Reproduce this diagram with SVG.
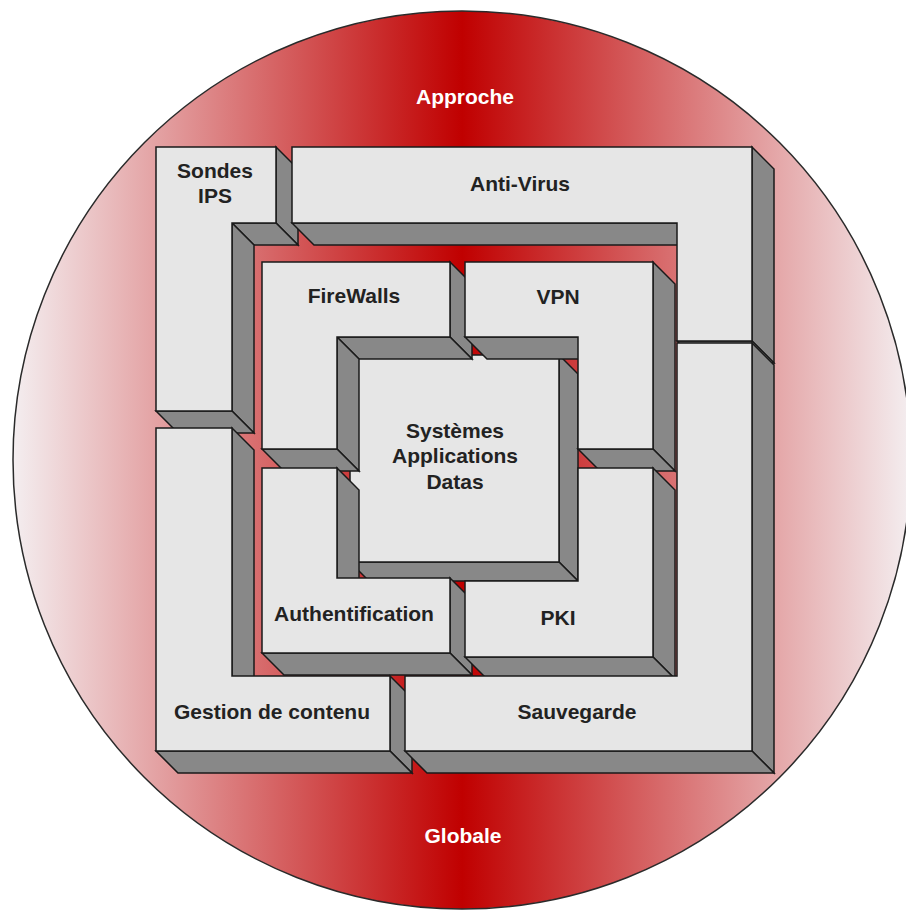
<svg xmlns="http://www.w3.org/2000/svg" width="906" height="911" viewBox="0 0 906 911">
<defs>
<linearGradient id="bg" gradientUnits="userSpaceOnUse" x1="13" y1="0" x2="911" y2="0">
<stop offset="0" stop-color="#f4eef0"/>
<stop offset="0.5" stop-color="#c00000"/>
<stop offset="1" stop-color="#f4eef0"/>
</linearGradient>
<style>
.front{fill:#e6e6e6;stroke:#1a1a1a;stroke-width:1.5;stroke-linejoin:miter}
.side{fill:#888888;stroke:#1a1a1a;stroke-width:1.5;stroke-linejoin:miter}
.lbl{font-family:"Liberation Sans",Arial,Helvetica,sans-serif;font-weight:bold;font-size:21px;fill:#222222;text-anchor:middle}
.title{font-family:"Liberation Sans",Arial,Helvetica,sans-serif;font-weight:bold;font-size:21px;fill:#ffffff;text-anchor:middle}
</style>
</defs>
<rect x="0" y="0" width="906" height="911" fill="#ffffff"/>
<g id="background">
<circle cx="462" cy="460" r="449" fill="url(#bg)" stroke="#2a2a2a" stroke-width="1.5"/>
<text class="title" x="465" y="104">Approche</text>
<text class="title" x="463" y="843">Globale</text>
</g>

<g id="systemes">
<polygon class="side" points="559,355 578,374 578,581 559,562"/>
<polygon class="side" points="350,562 559,562 578,581 369,581"/>
<polygon class="front" points="350,355 559,355 559,562 350,562"/>
<text class="lbl" x="455" y="438">Systèmes</text>
<text class="lbl" x="455" y="463">Applications</text>
<text class="lbl" x="455" y="489">Datas</text>
</g>

<g id="firewalls">
<polygon class="side" points="450,262 472,284 472,359 450,337"/>
<polygon class="side" points="337,337 450,337 472,359 359,359"/>
<polygon class="side" points="337,337 359,359 359,471 337,449"/>
<polygon class="side" points="262,449 337,449 359,471 284,471"/>
<polygon class="front" points="262,262 450,262 450,337 337,337 337,449 262,449"/>
<text class="lbl" x="354" y="303">FireWalls</text>
</g>

<g id="vpn">
<polygon class="side" points="653,262 675,284 675,471 653,449"/>
<polygon class="side" points="578,449 653,449 675,471 600,471"/>
<polygon class="side" points="465,337 578,337 600,359 487,359"/>
<polygon class="front" points="465,262 653,262 653,449 578,449 578,337 465,337"/>
<text class="lbl" x="558" y="304">VPN</text>
</g>

<g id="authentification">
<polygon class="side" points="337,468 359,490 359,600 337,578"/>
<polygon class="side" points="450,578 472,600 472,675 450,653"/>
<polygon class="side" points="262,653 450,653 472,675 284,675"/>
<polygon class="front" points="262,468 337,468 337,578 450,578 450,653 262,653"/>
<text class="lbl" x="354" y="621">Authentification</text>
</g>

<g id="pki">
<polygon class="side" points="653,468 675,490 675,679 653,657"/>
<polygon class="side" points="465,657 653,657 675,679 487,679"/>
<polygon class="front" points="578,468 653,468 653,657 465,657 465,581 578,581"/>
<text class="lbl" x="558" y="625">PKI</text>
</g>

<g id="sondes-ips">
<polygon class="side" points="276,147 298,169 298,245 276,223"/>
<polygon class="side" points="232,223 276,223 298,245 254,245"/>
<polygon class="side" points="232,223 254,245 254,433 232,411"/>
<polygon class="side" points="156,411 232,411 254,433 178,433"/>
<polygon class="front" points="156,147 276,147 276,223 232,223 232,411 156,411"/>
<text class="lbl" x="215" y="178">Sondes</text>
<text class="lbl" x="215" y="203">IPS</text>
</g>

<g id="anti-virus">
<polygon class="side" points="752,147 774,169 774,363 752,341"/>
<polygon class="side" points="677,341 752,341 774,363 699,363"/>
<polygon class="side" points="292,223 677,223 699,245 314,245"/>
<polygon class="front" points="292,147 752,147 752,341 677,341 677,223 292,223"/>
<text class="lbl" x="520" y="191">Anti-Virus</text>
</g>

<g id="gestion-de-contenu">
<polygon class="side" points="232,428 254,450 254,698 232,676"/>
<polygon class="side" points="390,676 412,698 412,773 390,751"/>
<polygon class="side" points="156,751 390,751 412,773 178,773"/>
<polygon class="front" points="156,428 232,428 232,676 390,676 390,751 156,751"/>
<text class="lbl" x="272" y="719">Gestion de contenu</text>
</g>

<g id="sauvegarde">
<polygon class="side" points="752,343 774,365 774,773 752,751"/>
<polygon class="side" points="405,751 752,751 774,773 427,773"/>
<polygon class="front" points="677,343 752,343 752,751 405,751 405,676 677,676"/>
<text class="lbl" x="577" y="719">Sauvegarde</text>
</g>
</svg>
